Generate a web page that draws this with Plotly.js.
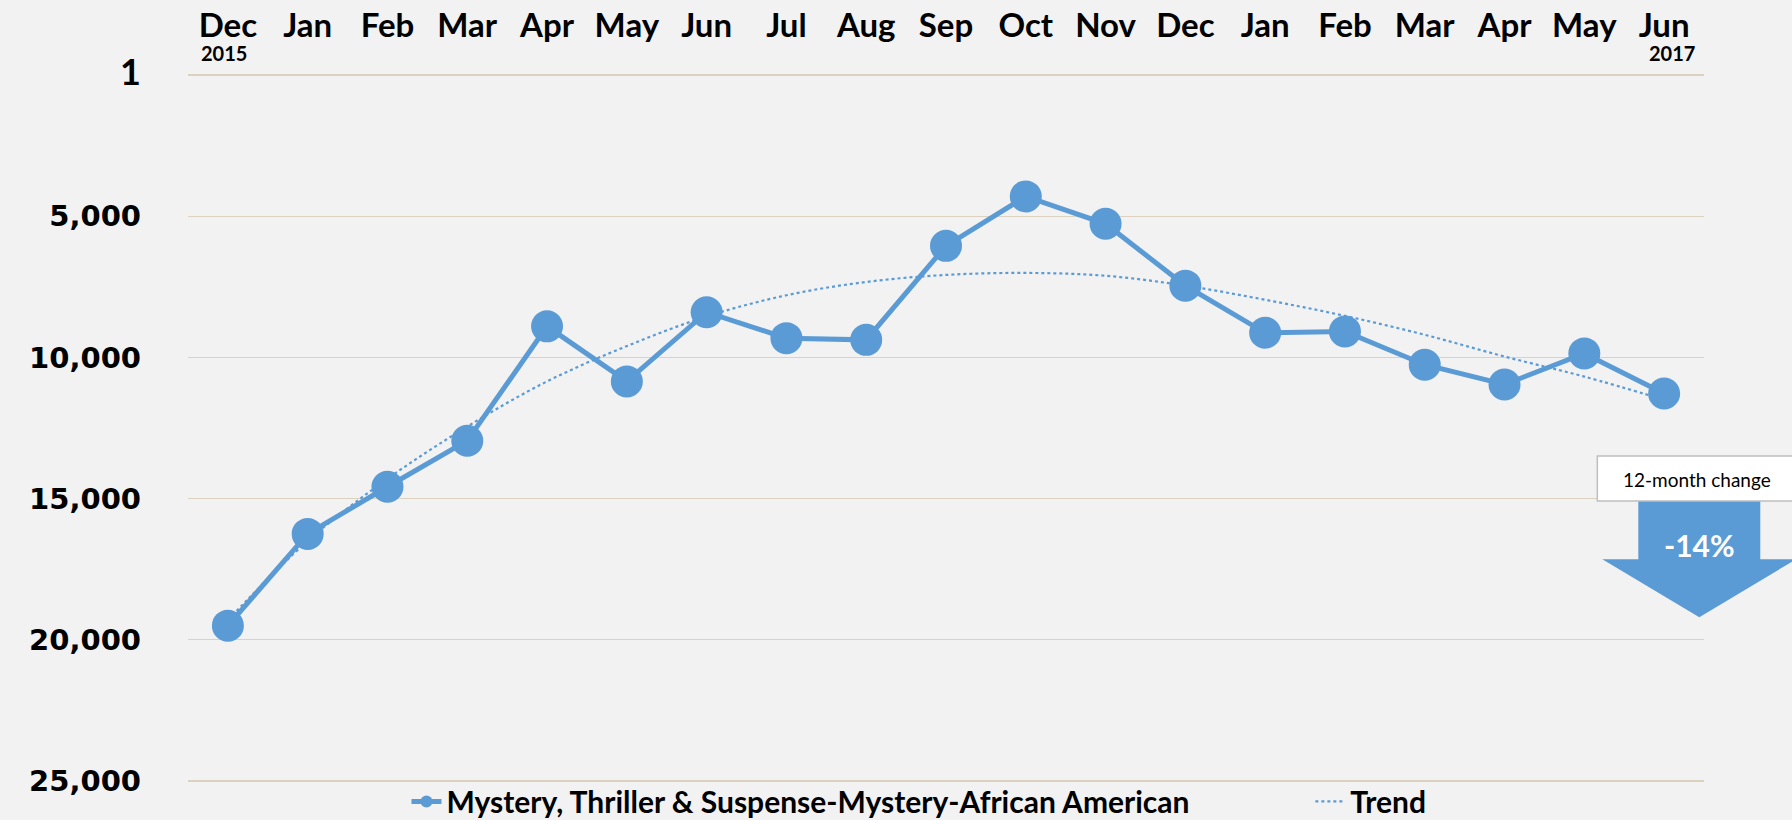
<!DOCTYPE html>
<html>
<head>
<meta charset="utf-8">
<script src="https://cdn.plot.ly/plotly-3.0.1.min.js"></script>
<style>html,body{margin:0;padding:0;background:#F2F2F2;}#chart{width:1792px;height:820px;}</style>
</head>
<body>
<div id="chart"></div>
<script>
// ---- data ----
const months = ['Dec','Jan','Feb','Mar','Apr','May','Jun','Jul','Aug','Sep','Oct','Nov','Dec','Jan','Feb','Mar','Apr','May','Jun'];
const rankValues = [19500,16250,14580,12950,8900,10850,8400,9320,9380,6050,4300,5270,7460,9130,9080,10260,10960,9860,11280];
const trendValues = [19300,16500,14300,12450,10850,9600,8550,7800,7330,7080,7010,7110,7460,7960,8530,9200,9970,10680,11500];
const yTickVals = [1,5000,10000,15000,20000,25000];
const yTickText = ['<span style="font-family:Lato;font-size:36px">1</span>','5,000','10,000','15,000','20,000','25,000'];
const seriesName = 'Mystery, Thriller & Suspense-Mystery-African American';
const trendName = 'Trend';
const startYear = '2015';
const endYear = '2017';
const changeLabel = '12-month change';
const changeValue = '-14%';

const xIdx = months.map((_, i) => i);

// ---- layout geometry (pixels) ----
const W = 1792, H = 820;
const gridTop = 75.4, gridBot = 780.6, edgePad = 3;   // pixel rows of the "1" and "25,000" gridlines
const plotL = 187.5, plotR = 1703.7, plotT = gridTop - edgePad, plotB = gridBot + edgePad;
const unitsPerPx = (yTickVals[yTickVals.length - 1] - yTickVals[0]) / (gridBot - gridTop);
const yRange = [yTickVals[yTickVals.length - 1] + edgePad * unitsPerPx, yTickVals[0] - edgePad * unitsPerPx];
const px = x => (x - plotL) / (plotR - plotL);
const py = y => (plotB - y) / (plotB - plotT);

const blue = '#5B9BD5';
const lato = "Lato, 'Open Sans', sans-serif";

const traces = [
  {
    x: xIdx, y: trendValues, name: trendName, type: 'scatter', mode: 'lines',
    line: {color: blue, width: 2.2, dash: 'dot', shape: 'spline', smoothing: 1},
    legend: 'legend2', hoverinfo: 'skip'
  },
  {
    x: xIdx, y: rankValues, name: seriesName, type: 'scatter', mode: 'lines+markers',
    line: {color: blue, width: 5},
    marker: {color: blue, size: 32},
    legend: 'legend'
  }
];

const arrowPts = [[1638,501],[1760,501],[1760,559],[1796,559],[1699,617],[1602,559],[1638,559]];
const arrowPath = 'M ' + arrowPts.map(p => px(p[0]) + ',' + py(p[1])).join(' L ') + ' Z';

const legendFont = {family: lato, size: 30, color: '#000', weight: 700};

const layout = {
  width: W, height: H,
  paper_bgcolor: '#F2F2F2', plot_bgcolor: '#F2F2F2',
  margin: {l: plotL, r: W - plotR, t: plotT, b: H - plotB, pad: 0, autoexpand: false},
  showlegend: true,
  legend: {
    orientation: 'h', x: px(406), xanchor: 'left', y: py(801), yanchor: 'middle',
    font: legendFont, bgcolor: 'rgba(0,0,0,0)', itemsizing: 'constant'
  },
  legend2: {
    orientation: 'h', x: px(1310), xanchor: 'left', y: py(801), yanchor: 'middle',
    font: legendFont, bgcolor: 'rgba(0,0,0,0)'
  },
  xaxis: {
    side: 'top', range: [-0.5, 18.5], tickmode: 'array', tickvals: xIdx, ticktext: months,
    showgrid: false, zeroline: false, showline: false, ticks: '',
    ticklabelstandoff: 27,
    tickfont: {family: lato, size: 33, color: '#000', weight: 700}, fixedrange: true
  },
  yaxis: {
    range: yRange, tickmode: 'array', tickvals: yTickVals, ticktext: yTickText,
    showgrid: true, gridcolor: '#DBD2BF', gridwidth: 1.3, zeroline: false, showline: false, ticks: '',
    ticklabelstandoff: 46,
    tickfont: {family: "'DejaVu Sans', sans-serif", size: 29, color: '#000', weight: 700}, fixedrange: true
  },
  shapes: [
    {type: 'path', xref: 'paper', yref: 'paper', path: arrowPath, fillcolor: blue, line: {width: 0}, layer: 'above'},
    {type: 'rect', xref: 'paper', yref: 'paper', x0: px(1597), x1: px(1800), y0: py(501), y1: py(456),
     fillcolor: '#FFFFFF', line: {color: '#BFBFBF', width: 1.5}, layer: 'above'}
  ],
  annotations: [
    {xref: 'x', yref: 'paper', x: 0, xshift: -29, xanchor: 'left', y: py(53), yanchor: 'middle',
     text: startYear, showarrow: false, font: {family: lato, size: 20, color: '#000', weight: 700}},
    {xref: 'x', yref: 'paper', x: 18, xshift: 33, xanchor: 'right', y: py(53), yanchor: 'middle',
     text: endYear, showarrow: false, font: {family: lato, size: 20, color: '#000', weight: 700}},
    {xref: 'paper', yref: 'paper', x: px(1697), y: py(479), xanchor: 'center', yanchor: 'middle',
     text: changeLabel, showarrow: false, font: {family: lato, size: 19, color: '#000'}},
    {xref: 'paper', yref: 'paper', x: px(1699), y: py(545), xanchor: 'center', yanchor: 'middle',
     text: changeValue, showarrow: false, font: {family: lato, size: 30, color: '#FFFFFF', weight: 700}}
  ]
};

Plotly.newPlot('chart', traces, layout, {displayModeBar: false, staticPlot: true});
</script>
</body>
</html>
